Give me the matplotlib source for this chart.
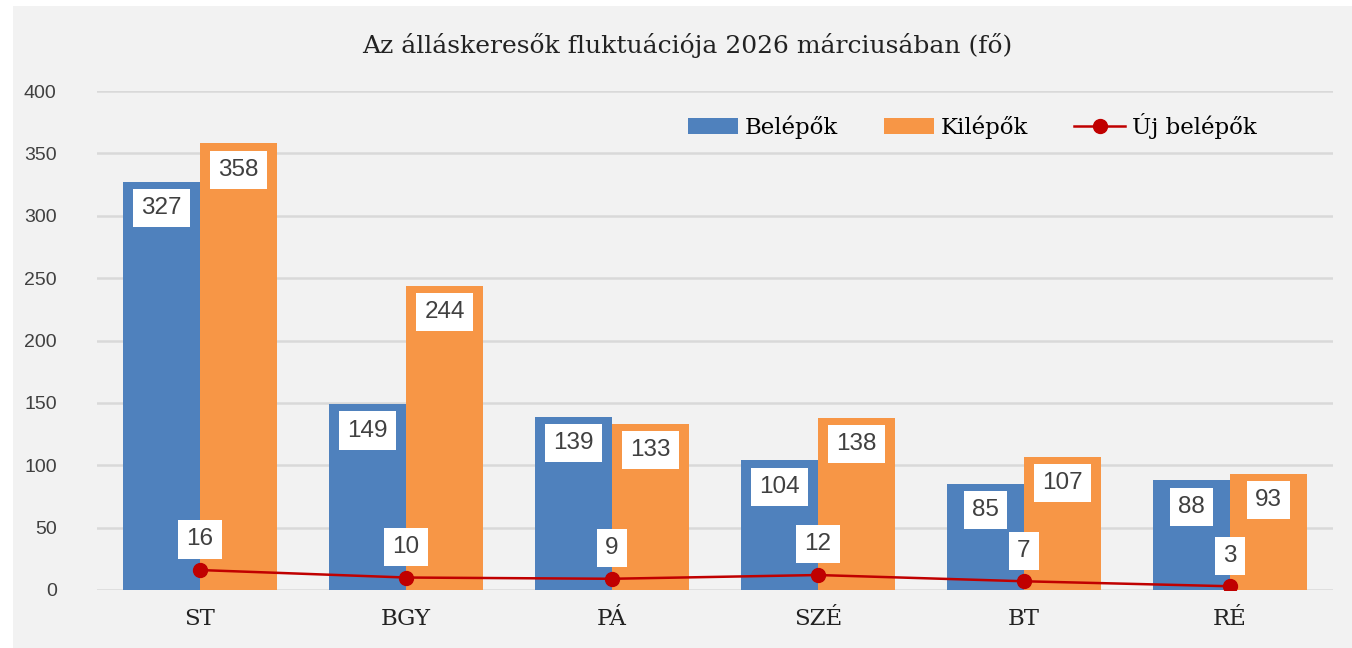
import matplotlib
matplotlib.use('Agg')
import matplotlib.pyplot as plt
from matplotlib.patches import Rectangle
import numpy as np

categories = ['ST', 'BGY', 'PÁ', 'SZÉ', 'BT', 'RÉ']
belepok = [327, 149, 139, 104, 85, 88]
kilepok = [358, 244, 133, 138, 107, 93]
uj_belepok = [16, 10, 9, 12, 7, 3]
yticks = [0, 50, 100, 150, 200, 250, 300, 350, 400]

title = 'Az álláskeresők fluktuációja 2026 márciusában (fő)'
serif = ['DejaVu Serif']
sans = ['Liberation Sans', 'DejaVu Sans']

W, H = 1352, 648
fig = plt.figure(figsize=(W / 100, H / 100), dpi=100)
fig.patch.set_facecolor('white')
# gray chart area
fig.add_artist(Rectangle((13 / W, 0), 1 - 13 / W, 1 - 6 / H, transform=fig.transFigure,
                         facecolor='#F2F2F2', edgecolor='none', zorder=-10))

ax = fig.add_axes([97 / W, 58 / H, (1333 - 97) / W, (590 - 91) / H])
ax.set_facecolor('none')

x = np.arange(len(categories))
bw = 0.374
b1 = ax.bar(x - bw / 2, belepok, bw, color='#4F81BD', label='Belépők', zorder=2)
b2 = ax.bar(x + bw / 2, kilepok, bw, color='#F79646', label='Kilépők', zorder=2)
ln, = ax.plot(x, uj_belepok, color='#C00000', lw=1.8, marker='o', ms=10,
              label='Új belépők', zorder=4)

box = dict(boxstyle='square,pad=0.33', facecolor='white', edgecolor='none')
for xs, vals in [(x - bw / 2, belepok), (x + bw / 2, kilepok)]:
    for xi, v in zip(xs, vals):
        ax.annotate(str(v), (xi, v), xytext=(0, -19), textcoords='offset points',
                    ha='center', va='center', fontsize=17.5, family=sans,
                    color='#404040', bbox=box, zorder=5)
for xi, v in zip(x, uj_belepok):
    ax.annotate(str(v), (xi, v), xytext=(0, 22), textcoords='offset points',
                ha='center', va='center', fontsize=17.5, family=sans,
                color='#404040', bbox=box, zorder=6)

ax.set_ylim(0, 400)
ax.set_xlim(-0.5, len(categories) - 0.5)
ax.set_yticks(yticks)
ax.yaxis.grid(True, color='#D9D9D9', lw=1.8, zorder=0)
ax.set_axisbelow(True)
for s in ax.spines.values():
    s.set_visible(False)
ax.tick_params(axis='y', length=0, pad=29, labelsize=14, labelcolor='#404040')
ax.tick_params(axis='x', length=0, pad=13, labelsize=16.5, labelcolor='#222222')
for t in ax.get_yticklabels():
    t.set_family(sans)
ax.set_xticks(x)
ax.set_xticklabels(categories, family=serif)

fig.text(0.508, 1 - 45 / H, title, ha='center', va='center', fontsize=18,
         family=serif, color='#222222')

ax.legend(handles=[b1, b2, ln], loc='center', bbox_to_anchor=(972 / W, 1 - 126 / H),
          bbox_transform=fig.transFigure, ncol=3, frameon=False,
          prop={'family': serif, 'size': 16.5}, handlelength=2.2, handletextpad=0.3,
          columnspacing=2.0)

fig.savefig('out.png', dpi=100, facecolor='white')
